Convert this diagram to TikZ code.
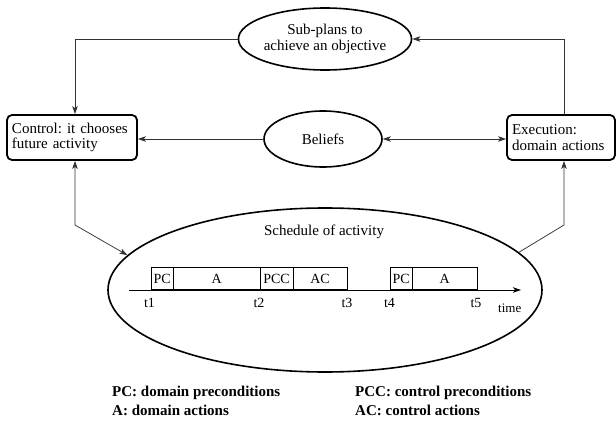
\documentclass[tikz,border=0pt]{standalone}
\usepackage{fontspec}
\setmainfont{Liberation Serif}
\usetikzlibrary{shapes.geometric,arrows.meta}
\frenchspacing
\begin{document}
\begin{tikzpicture}[x=1pt,y=-1pt,
  txt/.style={font=\fontsize{15}{15.5}\selectfont},
  oval/.style={ellipse,draw,line width=1.6pt,inner sep=0pt,txt,align=center},
  rbox/.style={rectangle,rounded corners=5pt,draw,line width=1.8pt,inner sep=0pt,txt,align=left,text width=#1},
  conn/.style={line width=0.75pt,draw=black!80},
  seg/.style={rectangle,draw,line width=0.6pt,anchor=south west,minimum height=22pt,inner sep=0pt,font=\fontsize{14}{14}\selectfont},
  tlab/.style={font=\fontsize{14}{14}\selectfont,inner sep=0pt},
  legend/.style={font=\bfseries\fontsize{15}{15}\selectfont,anchor=west,inner sep=0pt},
  >={Stealth[length=8pt,width=5.5pt,inset=2pt]}]
\useasboundingbox (0,0) rectangle (616,425);

\node[oval,minimum width=154pt,minimum height=62pt] (sub) at (325,39) {Sub-plans to\\achieve an objective};
\node[oval,minimum width=118pt,minimum height=56pt] (bel) at (323,139) {Beliefs};
\node[rbox=120pt,minimum width=130pt,minimum height=45pt] (ctrl) at (72,137.5) {Control: it chooses\\future activity};
\node[rbox=98pt,minimum width=108pt,minimum height=45pt] (exec) at (561,137.5) {Execution:\\domain actions};
\node[ellipse,draw,line width=1.6pt,minimum width=434pt,minimum height=164pt,inner sep=0pt] (sched) at (325,290) {};
\node[txt,inner sep=0pt] (stitle) at (324,232) {Schedule of activity};

% connectors
\coordinate (cl) at (75,225);
\coordinate (cr) at (564,225);
\draw[conn,->] (sub.west) -| ([xshift=3pt]ctrl.north);
\draw[conn,->] ([xshift=3pt]exec.north) |- (sub.east);
\draw[conn,->] (bel.west) -- (ctrl.east |- bel.west);
\draw[conn,<->] (bel.east) -- (exec.west |- bel.east);
\draw[conn,<->] ([xshift=3pt]ctrl.south) -- (cl) -- (sched.170);
\draw[conn,->] (sched.11) -- (cr) -- ([xshift=3pt]exec.south);

% timeline
\coordinate (ts) at (129,290);
\coordinate (te) at (521,290);
\node[seg,minimum width=22.3pt] (pc1) at (150.7,290) {PC};
\node[seg,minimum width=86.7pt] (a1) at (173,290) {A};
\node[seg,minimum width=33pt] (pcc) at (259.7,290) {PCC};
\node[seg,minimum width=54pt] (ac) at (292.7,290) {AC};
\node[seg,minimum width=21.7pt] (pc2) at (390,290) {PC};
\node[seg,minimum width=65.3pt] (a2) at (411.7,290) {A};
\draw[line width=0.8pt,->] (ts) -- (te);

\node[tlab] (t1) at (149.5,303) {t1};
\node[tlab] (t2) at (259,303) {t2};
\node[tlab] (t3) at (347,303) {t3};
\node[tlab] (t4) at (389.5,303) {t4};
\node[tlab] (t5) at (476,303) {t5};
\node[font=\fontsize{13}{13}\selectfont,inner sep=0pt,anchor=west] (time) at (498,308) {time};

% legend
\node[legend] (l1) at (112,393) {PC: domain preconditions};
\node[legend] (l2) at (112,410) {A: domain actions};
\node[legend] (l3) at (355,393) {PCC: control preconditions};
\node[legend] (l4) at (355,410) {AC: control actions};
\end{tikzpicture}
\end{document}
